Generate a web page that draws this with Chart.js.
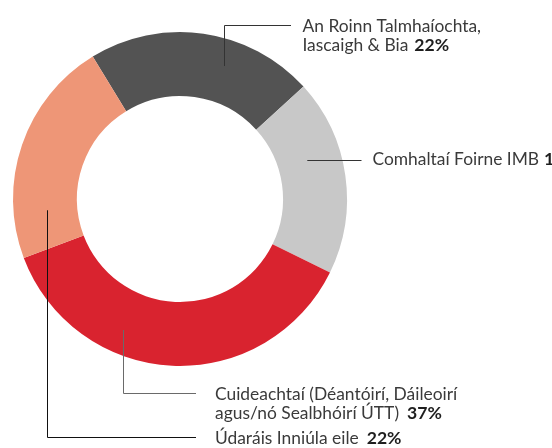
<!DOCTYPE html>
<html><head><meta charset="utf-8">
<script src="https://cdn.jsdelivr.net/npm/chart.js"></script>
<style>html,body{margin:0;padding:0;background:#fff;overflow:hidden}</style>
</head><body>
<canvas id="c" width="552" height="448"></canvas>
<script>
// ---- data ----
const categories = [
  ['An Roinn Talmhaíochta,', 'Iascaigh & Bia'],
  ['Comhaltaí Foirne IMB'],
  ['Cuideachtaí (Déantóirí, Dáileoirí', 'agus/nó Sealbhóirí ÚTT)'],
  ['Údaráis Inniúla eile']
];
const shares = [22, 19, 37, 22];
const colours = ['#535353', '#c8c8c8', '#d9232f', '#ee9677'];

// ---- callout layout (style only) ----
const callouts = [
  {t: 0.63, r: 0.58, route: 'v', turnY: 25.5, endX: 291, textX: 302.5, baseY: [31.5, 50.5], line: '#333', gap: 6},
  {t: 0.37, r: 0.47, route: 'h', endX: 361.5, textX: 372.5, baseY: [164.5], line: '#333', gap: 5},
  {t: 0.655, r: 0.62, route: 'v', turnY: 393.5, endX: 196, textX: 215, baseY: [399.5, 418.5], line: '#6a6a6a', gap: 8},
  {t: 0.20,  r: 0.47, route: 'v', turnY: 437.5, endX: 196, textX: 215, baseY: [443.5], line: '#111', gap: 8}
];
const FONT = '17.4px Lato';
const BOLD = 'bold 17.6px Lato';

const calloutPlugin = {
  id: 'callouts',
  afterDraw(chart) {
    const ctx = chart.ctx;
    const meta = chart.getDatasetMeta(0);
    ctx.save();
    meta.data.forEach((arc, i) => {
      const p = arc.getProps(['x', 'y', 'startAngle', 'endAngle', 'innerRadius', 'outerRadius'], true);
      const c = callouts[i];
      const a = p.startAngle + c.t * (p.endAngle - p.startAngle);
      const rr = p.innerRadius + c.r * (p.outerRadius - p.innerRadius);
      const ax = p.x + rr * Math.cos(a);
      const ay = p.y + rr * Math.sin(a);
      ctx.strokeStyle = c.line;
      ctx.lineWidth = 1;
      ctx.beginPath();
      if (c.route === 'v') {
        const x = Math.round(ax) + 0.5;
        ctx.moveTo(x, ay);
        ctx.lineTo(x, c.turnY);
        ctx.lineTo(c.endX, c.turnY);
      } else {
        const y = Math.round(ay) + 0.5;
        ctx.moveTo(ax, y);
        ctx.lineTo(c.endX, y);
      }
      ctx.stroke();
      ctx.textBaseline = 'alphabetic';
      ctx.textAlign = 'left';
      const lines = categories[i];
      lines.forEach((ln, k) => {
        ctx.font = FONT;
        ctx.fillStyle = '#3a3a3a';
        ctx.fillText(ln, c.textX, c.baseY[k]);
        if (k === lines.length - 1) {
          const w = ctx.measureText(ln).width;
          ctx.font = BOLD;
          ctx.fillStyle = '#1e1e1e';
          ctx.fillText(shares[i] + '%', c.textX + w + c.gap, c.baseY[k]);
        }
      });
    });
    ctx.restore();
  }
};

new Chart(document.getElementById('c'), {
  type: 'doughnut',
  data: {
    labels: categories.map(l => l.join(' ')),
    datasets: [{
      data: shares,
      backgroundColor: colours,
      borderWidth: 0,
      hoverOffset: 0,
      offset: 0
    }]
  },
  options: {
    responsive: false,
    animation: false,
    devicePixelRatio: 1,
    rotation: -31.5,
    cutout: '61.7%',
    layout: {padding: {left: 13, right: 205, top: 32, bottom: 82}},
    plugins: {legend: {display: false}, tooltip: {enabled: false}},
    events: []
  },
  plugins: [calloutPlugin]
});
</script></body></html>
